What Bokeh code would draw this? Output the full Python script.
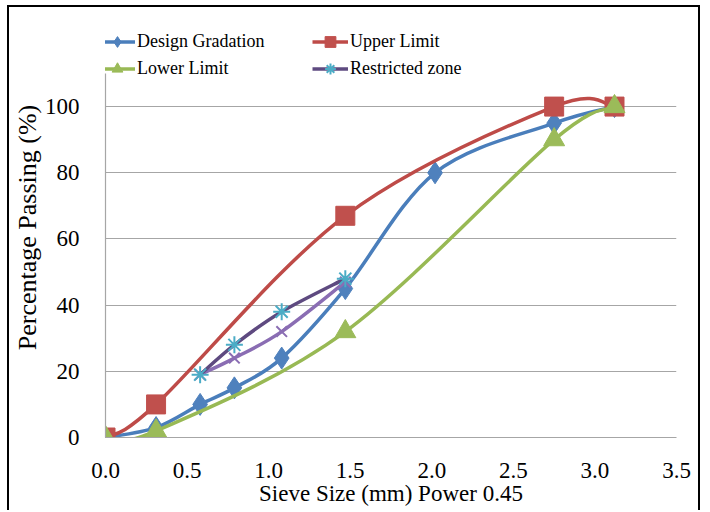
from bokeh.plotting import figure
from bokeh.models import Legend, LegendItem, FixedTicker, Range1d, ColumnDataSource, NumeralTickFormatter
from bokeh.embed import file_html
from bokeh.resources import INLINE

# ---- data (sieve size in mm raised to power 0.45) ----
design_x = [0.0, 0.31, 0.58, 0.79, 1.08, 1.47, 2.02, 2.75, 3.12]
design_y = [0, 3, 10, 15, 24, 45, 80, 95, 100]

limit_x = [0.0, 0.31, 1.47, 2.75, 3.12]
upper_y = [0, 10, 67, 100, 100]
lower_y = [0, 2, 32, 90, 100]

rz_x = [0.58, 0.79, 1.08, 1.47]
rz_upper_y = [19, 28, 38, 48]
rz_lower_y = [19, 24, 32, 47]

x_ticks = [0.0, 0.5, 1.0, 1.5, 2.0, 2.5, 3.0, 3.5]
y_ticks = [0, 20, 40, 60, 80, 100]
Y_AXIS_MAX = 110

FONT = "Liberation Serif"

BLUE, BLUE_F = "#4A7EBB", "#4F81BD"
RED, RED_F = "#BE4B48", "#C0504D"
GREEN, GREEN_F = "#98B954", "#9BBB59"
PURPLE_D = "#5E4A80"
PURPLE_L = "#8A6DB3"
CYAN = "#4BACC6"

# layout (canvas pixels)
W, H = 693, 505
TOP, BOTTOM, LEFT, RIGHT = 10, 75, 94, 26
AXIS_PX = 364            # pixel height of the 0..110 span
frame_h = H - TOP - BOTTOM
y_view_max = Y_AXIS_MAX * frame_h / AXIS_PX   # room above the axis for the legend


def smooth(xs, ys, t=1.0 / 6.0):
    """Excel-like smoothed line: cubic Bezier segments (Catmull-Rom control points)."""
    n = len(xs)
    d = dict(x0=[], y0=[], x1=[], y1=[], cx0=[], cy0=[], cx1=[], cy1=[])
    for i in range(n - 1):
        xp, yp = (xs[i - 1], ys[i - 1]) if i > 0 else (xs[i], ys[i])
        xn, yn = (xs[i + 2], ys[i + 2]) if i + 2 < n else (xs[i + 1], ys[i + 1])
        d["x0"].append(xs[i]); d["y0"].append(ys[i])
        d["x1"].append(xs[i + 1]); d["y1"].append(ys[i + 1])
        d["cx0"].append(xs[i] + (xs[i + 1] - xp) * t)
        d["cy0"].append(ys[i] + (ys[i + 1] - yp) * t)
        d["cx1"].append(xs[i + 1] - (xn - xs[i]) * t)
        d["cy1"].append(ys[i + 1] - (yn - ys[i]) * t)
    return ColumnDataSource(d)


p = figure(width=W, height=H, output_backend="svg", toolbar_location=None,
           x_range=Range1d(0, 3.5), y_range=Range1d(0, y_view_max),
           min_border_left=LEFT, min_border_right=RIGHT, min_border_top=TOP, min_border_bottom=BOTTOM)
p.styles = {"margin-left": "7px", "margin-top": "5px",
            "border-left": "2px solid black", "border-top": "2px solid black",
            "border-right": "2px solid black"}
p.outline_line_color = None
p.background_fill_color = "white"
p.border_fill_color = "white"

p.xgrid.grid_line_color = None
p.ygrid.grid_line_color = "#A6A6A6"
p.ygrid.grid_line_width = 1.2

p.xaxis.ticker = FixedTicker(ticks=x_ticks)
p.yaxis.ticker = FixedTicker(ticks=y_ticks)
p.yaxis.bounds = (0, Y_AXIS_MAX)
p.xaxis.formatter = NumeralTickFormatter(format="0.0")
for ax in (p.xaxis, p.yaxis):
    ax.axis_line_color = "#A6A6A6"
    ax.axis_line_width = 1.2
    ax.major_tick_line_color = None
    ax.minor_tick_line_color = None
    ax.major_label_text_font = FONT
    ax.major_label_text_font_size = "23px"
    ax.major_label_text_color = "black"
    ax.axis_label_text_font = FONT
    ax.axis_label_text_font_style = "normal"
    ax.axis_label_text_color = "black"

p.xaxis.axis_label = "Sieve Size (mm) Power 0.45"
p.xaxis.axis_label_text_font_size = "23px"
p.xaxis.major_label_standoff = 19
p.xaxis.axis_label_standoff = 0
p.yaxis.axis_label = "Percentage Passing (%)"
p.yaxis.axis_label_text_font_size = "26px"
p.yaxis.major_label_standoff = 20
p.yaxis.axis_label_standoff = 0

LW = 3.5


def series(xs, ys, line_color, t=1.0 / 6.0):
    p.bezier(x0="x0", y0="y0", x1="x1", y1="y1", cx0="cx0", cy0="cy0", cx1="cx1", cy1="cy1",
             source=smooth(xs, ys, t), line_color=line_color, line_width=LW)
    # single-point line: draws nothing in the plot, provides the legend's line sample
    return p.line(x=xs[:1], y=ys[:1], line_color=line_color, line_width=LW)


# Design gradation
d_leg = series(design_x, design_y, BLUE)
d_mk = p.scatter(design_x, design_y, marker="diamond", size=22, fill_color=BLUE_F, line_color=BLUE_F)

# Upper limit
u_leg = series(limit_x, upper_y, RED)
u_mk = p.scatter(limit_x, upper_y, marker="square", size=19, fill_color=RED_F, line_color=RED_F)

# Lower limit
l_leg = series(limit_x, lower_y, GREEN)
l_mk = p.scatter(limit_x, lower_y, marker="triangle", size=21, fill_color=GREEN_F, line_color=GREEN_F)

# Restricted zone (lower and upper boundaries)
series(rz_x, rz_lower_y, PURPLE_L)
p.scatter(rz_x, rz_lower_y, marker="x", size=15, line_color=PURPLE_L, line_width=2)
r_leg = series(rz_x, rz_upper_y, PURPLE_D)
r_mk = p.scatter(rz_x, rz_upper_y, marker="asterisk", size=17, line_color=CYAN, line_width=2)


def make_legend(items, loc):
    lg = Legend(items=items, location=loc, orientation="vertical")
    lg.label_text_font = FONT
    lg.label_text_font_size = "18px"
    lg.label_text_color = "black"
    lg.label_standoff = 2
    lg.glyph_width = 36
    lg.glyph_height = 27
    lg.label_height = 27
    lg.spacing = 0
    lg.padding = 0
    lg.margin = 0
    lg.border_line_color = None
    lg.background_fill_alpha = 0
    return lg


LEG_Y = frame_h - 64.5
leg_a = make_legend([LegendItem(label="Design Gradation", renderers=[d_leg, d_mk]),
                     LegendItem(label="Lower Limit", renderers=[l_leg, l_mk])], (-6, LEG_Y))
leg_b = make_legend([LegendItem(label="Upper Limit", renderers=[u_leg, u_mk]),
                     LegendItem(label="Restricted zone", renderers=[r_leg, r_mk])], (207, LEG_Y))
p.add_layout(leg_a, "center")
p.add_layout(leg_b, "center")

open("out.html", "w").write(file_html(p, INLINE))
